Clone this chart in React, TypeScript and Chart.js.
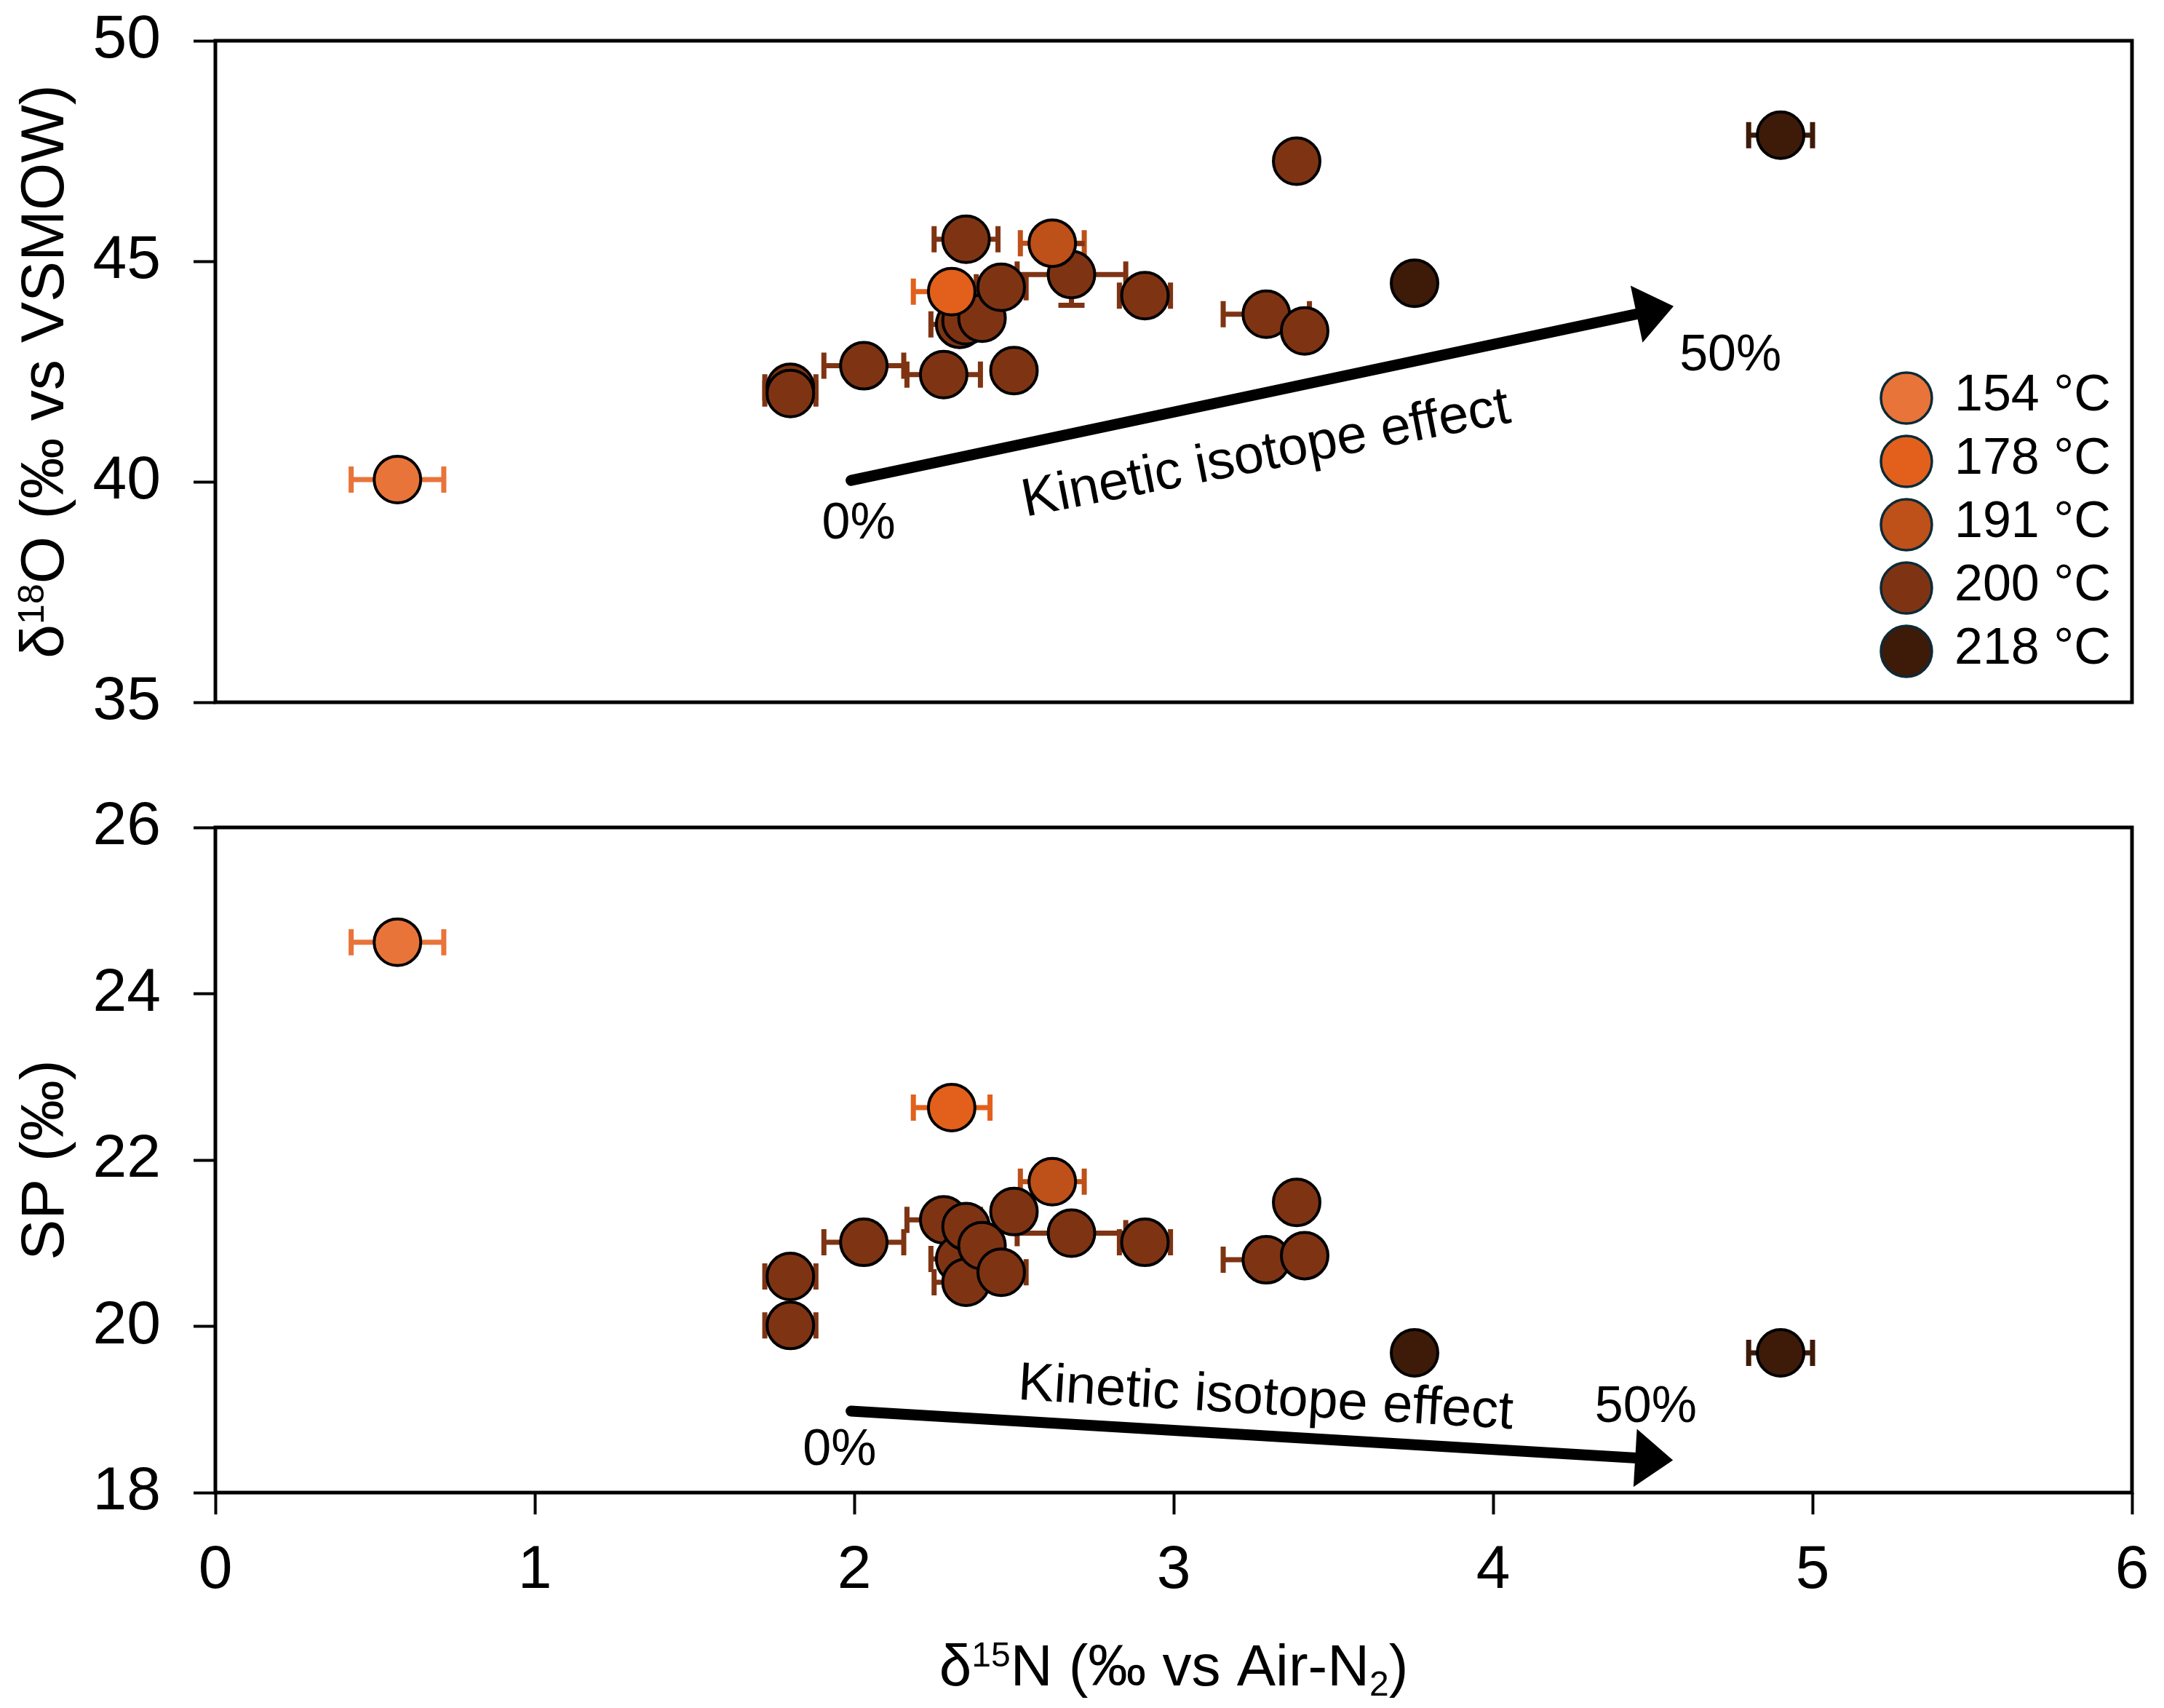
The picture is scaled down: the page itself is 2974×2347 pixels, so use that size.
import React, { useEffect, useRef } from "react";
import { Chart, registerables } from "chart.js";

Chart.register(...registerables);

const FONT = "'Liberation Sans', Arial, Helvetica, sans-serif";

// series labels and colours
const temps = ["154 °C", "178 °C", "191 °C", "200 °C", "218 °C"];
const colors = ["#E8743A", "#E2601C", "#BE5019", "#7E3413", "#3E1A09"];

// d15N, d18O, SP and d15N error for each temperature
const x154 = [0.57];
const o154 = [40.05];
const sp154 = [24.62];
const ex154 = [0.145];

const x178 = [2.305];
const o178 = [44.31];
const sp178 = [22.63];
const ex178 = [0.12];

const x191 = [2.62];
const o191 = [45.41];
const sp191 = [21.74];
const ex191 = [0.1];

const x200 = [1.8, 1.8, 2.03, 2.28, 2.33, 2.35, 2.35, 2.4, 2.46, 2.5, 2.68, 2.91, 3.29, 3.385, 3.41];
const o200 = [42.14, 42.0, 42.63, 42.43, 43.57, 45.5, 43.65, 43.71, 44.41, 42.52, 44.7, 44.22, 43.8, 47.27, 43.42];
const sp200 = [20.6, 20.01, 21.01, 21.28, 20.81, 20.53, 21.2, 20.97, 20.65, 21.38, 21.12, 21.01, 20.8, 21.49, 20.85];
const ex200 = [0.08, 0.08, 0.125, 0.115, 0.09, 0.1, 0.05, 0.05, 0.078, 0.03, 0.17, 0.08, 0.135, 0, 0.02];
const eo200 = [0, 0, 0, 0, 0, 0, 0, 0, 0, 0, 0.7, 0, 0, 0, 0];

const x218 = [3.754, 4.9];
const o218 = [44.5, 47.86];
const sp218 = [19.68, 19.68];
const ex218 = [0, 0.1];

// tick labels
const xTicks = [0, 1, 2, 3, 4, 5, 6];
const o18Ticks = [35, 40, 45, 50];
const spTicks = [18, 20, 22, 24, 26];

// kinetic isotope effect arrows (data units)
const arrowO18 = { from: [1.99, 40.03], to: [4.565, 43.98] };
const arrowSP = { from: [1.99, 18.98], to: [4.563, 18.39] };

const seriesX = [x154, x178, x191, x200, x218];
const seriesO = [o154, o178, o191, o200, o218];
const seriesSP = [sp154, sp178, sp191, sp200, sp218];
const seriesEx = [ex154, ex178, ex191, ex200, ex218];
const seriesEo = [null, null, null, eo200, null];

// canvas placement (page pixels)
const TOP_Y = -44;
const TOP_H = 1109;
const BOT_Y = 1037;
const BOT_H = 1310;
const CANVAS_W = 2984;

type Part = { t: string; s: number; dy: number };

function drawRich(ctx: CanvasRenderingContext2D, parts: Part[], x: number, y: number) {
  let w = 0;
  parts.forEach((p) => {
    ctx.font = `${p.s}px ${FONT}`;
    w += ctx.measureText(p.t).width;
  });
  let cx = x - w / 2;
  ctx.textAlign = "left";
  ctx.textBaseline = "alphabetic";
  parts.forEach((p) => {
    ctx.font = `${p.s}px ${FONT}`;
    ctx.fillText(p.t, cx, y + p.dy);
    cx += ctx.measureText(p.t).width;
  });
}

function drawArrow(ctx: CanvasRenderingContext2D, x0: number, y0: number, x1: number, y1: number) {
  const ang = Math.atan2(y1 - y0, x1 - x0);
  const headLen = 52;
  const half = 40;
  const bx = x1 - headLen * Math.cos(ang);
  const by = y1 - headLen * Math.sin(ang);
  ctx.save();
  ctx.strokeStyle = "#000";
  ctx.fillStyle = "#000";
  ctx.lineWidth = 15;
  ctx.lineCap = "round";
  ctx.beginPath();
  ctx.moveTo(x0, y0);
  ctx.lineTo(bx + 2 * Math.cos(ang), by + 2 * Math.sin(ang));
  ctx.stroke();
  ctx.beginPath();
  ctx.moveTo(x1, y1);
  ctx.lineTo(bx + half * Math.sin(ang), by - half * Math.cos(ang));
  ctx.lineTo(bx - half * Math.sin(ang), by + half * Math.cos(ang));
  ctx.closePath();
  ctx.fill();
  ctx.restore();
}

const errorBars = {
  id: "errorBars",
  beforeDatasetsDraw(chart: any) {
    const { ctx } = chart;
    const xs = chart.scales.x;
    const ys = chart.scales.y;
    ctx.save();
    chart.data.datasets.forEach((ds: any) => {
      ctx.strokeStyle = ds.backgroundColor;
      ctx.lineWidth = 7;
      ds.data.forEach((p: any) => {
        const cx = xs.getPixelForValue(p.x);
        const cy = ys.getPixelForValue(p.y);
        if (p.xErr) {
          const a = xs.getPixelForValue(p.x - p.xErr);
          const b = xs.getPixelForValue(p.x + p.xErr);
          ctx.beginPath();
          ctx.moveTo(a, cy);
          ctx.lineTo(b, cy);
          ctx.moveTo(a, cy - 18);
          ctx.lineTo(a, cy + 18);
          ctx.moveTo(b, cy - 18);
          ctx.lineTo(b, cy + 18);
          ctx.stroke();
        }
        if (p.yErr) {
          const a = ys.getPixelForValue(p.y - p.yErr);
          const b = ys.getPixelForValue(p.y + p.yErr);
          ctx.beginPath();
          ctx.moveTo(cx, a);
          ctx.lineTo(cx, b);
          ctx.moveTo(cx - 18, a);
          ctx.lineTo(cx + 18, a);
          ctx.moveTo(cx - 18, b);
          ctx.lineTo(cx + 18, b);
          ctx.stroke();
        }
      });
    });
    ctx.restore();
  },
};

const frame = {
  id: "frame",
  beforeDatasetsDraw(chart: any) {
    const { ctx, chartArea } = chart;
    ctx.save();
    ctx.strokeStyle = "#000";
    ctx.lineWidth = 5;
    ctx.strokeRect(chartArea.left, chartArea.top, chartArea.width, chartArea.height);
    ctx.restore();
  },
};

function annotations(kind: "o18" | "sp") {
  return {
    id: "annot_" + kind,
    afterDatasetsDraw(chart: any) {
      const { ctx, chartArea } = chart;
      const xs = chart.scales.x;
      const ys = chart.scales.y;
      const px = (v: number) => xs.getPixelForValue(v);
      const py = (v: number) => ys.getPixelForValue(v);
      const arrow = kind === "o18" ? arrowO18 : arrowSP;
      drawArrow(ctx, px(arrow.from[0]), py(arrow.from[1]), px(arrow.to[0]), py(arrow.to[1]));

      ctx.save();
      ctx.fillStyle = "#000";
      ctx.textAlign = "center";
      ctx.textBaseline = "middle";
      ctx.font = `70px ${FONT}`;
      if (kind === "o18") {
        ctx.fillText("0%", px(2.014), py(39.03));
        ctx.fillText("50%", px(4.743), py(42.84));
      } else {
        ctx.fillText("0%", px(1.954), py(18.5));
        ctx.fillText("50%", px(4.478), py(19.02));
      }
      ctx.font = `74px ${FONT}`;
      ctx.textBaseline = "alphabetic";
      const tx = kind === "o18" ? px(3.298) : px(3.285);
      const ty = kind === "o18" ? py(40.28) : py(18.945);
      ctx.translate(tx, ty);
      ctx.rotate(((kind === "o18" ? -11 : 3.4) * Math.PI) / 180);
      ctx.fillText("Kinetic isotope effect", 0, 0);
      ctx.restore();

      // axis titles
      ctx.save();
      ctx.fillStyle = "#000";
      const midY = (chartArea.top + chartArea.bottom) / 2;
      ctx.translate(87, midY);
      ctx.rotate(-Math.PI / 2);
      if (kind === "o18") {
        drawRich(
          ctx,
          [
            { t: "δ", s: 84, dy: 0 },
            { t: "18", s: 50, dy: -27 },
            { t: "O (‰ vs VSMOW)", s: 84, dy: 0 },
          ],
          0,
          0
        );
      } else {
        drawRich(ctx, [{ t: "SP (‰)", s: 84, dy: 0 }], 0, 0);
      }
      ctx.restore();

      if (kind === "sp") {
        ctx.save();
        ctx.fillStyle = "#000";
        const midX = (chartArea.left + chartArea.right) / 2;
        drawRich(
          ctx,
          [
            { t: "δ", s: 80, dy: 0 },
            { t: "15", s: 48, dy: -26 },
            { t: "N (‰ vs Air-N", s: 80, dy: 0 },
            { t: "2", s: 48, dy: 14 },
            { t: ")", s: 80, dy: 0 },
          ],
          midX,
          2316 - BOT_Y
        );
        ctx.restore();
      }
    },
  };
}

const legendBox = {
  id: "legendBox",
  afterDraw(chart: any) {
    const { ctx, chartArea } = chart;
    const cx = chartArea.right - 310;
    const y0 = chartArea.top + 491;
    ctx.save();
    temps.forEach((t, i) => {
      const cy = y0 + i * 87;
      ctx.beginPath();
      ctx.arc(cx, cy, 35, 0, Math.PI * 2);
      ctx.fillStyle = colors[i];
      ctx.fill();
      ctx.lineWidth = 3.5;
      ctx.strokeStyle = "#0d2a36";
      ctx.stroke();
      ctx.fillStyle = "#000";
      ctx.font = `70px ${FONT}`;
      ctx.textAlign = "left";
      ctx.textBaseline = "middle";
      ctx.fillText(t, cx + 66, cy - 2);
    });
    ctx.restore();
  },
};

function makeDatasets(ys: number[][], yErrs: (number[] | null)[]) {
  return temps.map((label, i) => ({
    label,
    data: seriesX[i].map((x, j) => ({
      x,
      y: ys[i][j],
      xErr: seriesEx[i][j],
      yErr: yErrs[i] ? (yErrs[i] as number[])[j] : 0,
    })),
    backgroundColor: colors[i],
    borderColor: "#000",
    borderWidth: 4,
    pointRadius: 32,
    pointHoverRadius: 32,
  }));
}

function axis(ticks: number[], show: boolean, horizontal: boolean) {
  return {
    type: "linear",
    display: show,
    min: ticks[0],
    max: ticks[ticks.length - 1],
    afterBuildTicks: (s: any) => {
      s.ticks = ticks.map((v) => ({ value: v }));
    },
    afterFit: (s: any) => {
      if (!show) return;
      if (horizontal) s.height = 296;
      else s.width = 296;
    },
    grid: {
      drawOnChartArea: false,
      drawTicks: true,
      tickLength: 30,
      tickWidth: 4,
      tickColor: "#000",
    },
    border: { display: false },
    ticks: {
      color: "#000",
      font: { family: FONT, size: 84 },
      padding: horizontal ? 27 : 45,
      autoSkip: false,
      maxRotation: 0,
    },
  };
}

const App = () => {
  const topRef = useRef<HTMLCanvasElement>(null);
  const botRef = useRef<HTMLCanvasElement>(null);

  useEffect(() => {
    document.body.style.margin = "0";
    const common = {
      animation: false,
      responsive: false,
      devicePixelRatio: 1,
      events: [],
    };
    const top = new Chart(topRef.current as HTMLCanvasElement, {
      type: "scatter",
      data: { datasets: makeDatasets(seriesO, seriesEo) as any },
      options: {
        ...common,
        layout: { padding: { left: 0, right: CANVAS_W - 2930, top: 56 - TOP_Y, bottom: TOP_H - (965 - TOP_Y) } },
        plugins: { legend: { display: false }, tooltip: { enabled: false } },
        scales: { x: axis(xTicks, false, true), y: axis(o18Ticks, true, false) } as any,
      } as any,
      plugins: [frame, errorBars, annotations("o18"), legendBox],
    });
    const bottom = new Chart(botRef.current as HTMLCanvasElement, {
      type: "scatter",
      data: { datasets: makeDatasets(seriesSP, [null, null, null, null, null]) as any },
      options: {
        ...common,
        layout: { padding: { left: 0, right: CANVAS_W - 2930, top: 1137 - BOT_Y, bottom: 0 } },
        plugins: { legend: { display: false }, tooltip: { enabled: false } },
        scales: { x: axis(xTicks, true, true), y: axis(spTicks, true, false) } as any,
      } as any,
      plugins: [frame, errorBars, annotations("sp")],
    });
    return () => {
      top.destroy();
      bottom.destroy();
    };
  }, []);

  return (
    <div style={{ position: "relative", width: 2974, height: 2347, background: "#fff", overflow: "hidden" }}>
      <canvas
        ref={topRef}
        width={CANVAS_W}
        height={TOP_H}
        style={{ position: "absolute", left: 0, top: TOP_Y, width: CANVAS_W, height: TOP_H, display: "block" }}
      />
      <canvas
        ref={botRef}
        width={CANVAS_W}
        height={BOT_H}
        style={{ position: "absolute", left: 0, top: BOT_Y, width: CANVAS_W, height: BOT_H, display: "block" }}
      />
    </div>
  );
};

export default App;
